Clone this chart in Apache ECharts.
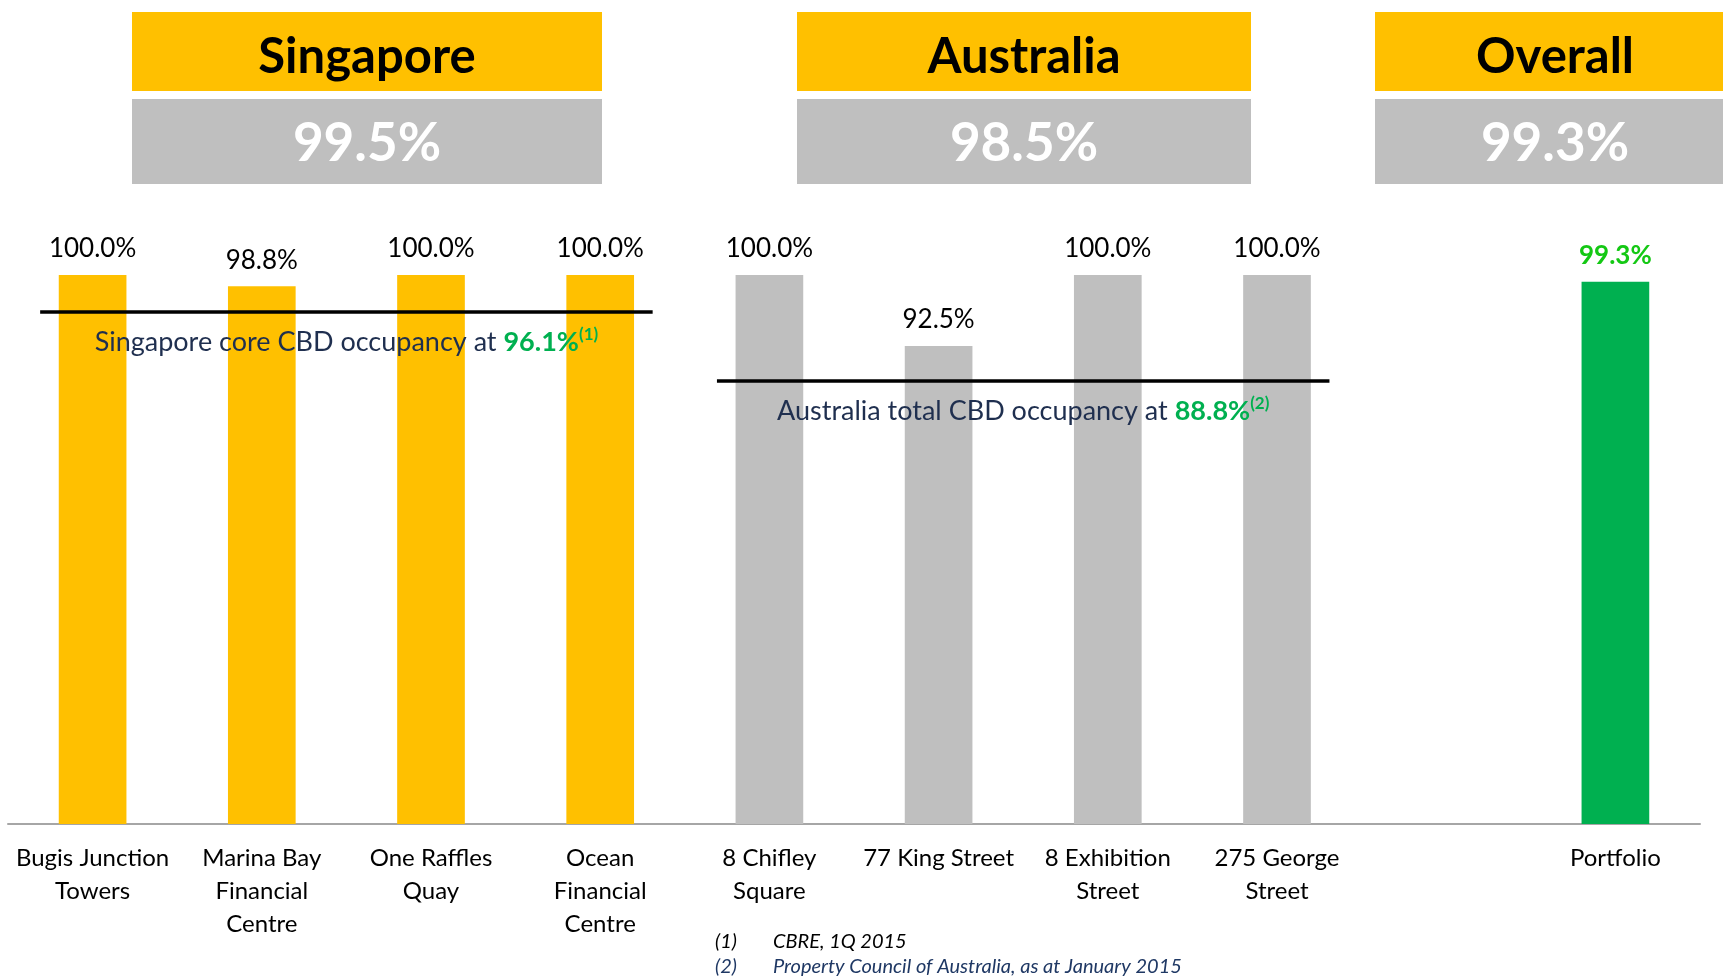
<!DOCTYPE html>
<html>
<head>
<meta charset="utf-8">
<script src="https://cdn.jsdelivr.net/npm/echarts@6/dist/echarts.min.js"></script>
<style>
  html, body { margin: 0; padding: 0; background: #ffffff; }
  #chart { width: 1723px; height: 977px; }
</style>
</head>
<body>
<div id="chart"></div>
<script>
// ---------- data ----------
const categories = [
  'Bugis Junction\nTowers',
  'Marina Bay\nFinancial\nCentre',
  'One Raffles\nQuay',
  'Ocean\nFinancial\nCentre',
  '8 Chifley\nSquare',
  '77 King Street',
  '8 Exhibition\nStreet',
  '275 George\nStreet',
  '',
  'Portfolio'
];
const occupancy = [100.0, 98.8, 100.0, 100.0, 100.0, 92.5, 100.0, 100.0, null, 99.3];
const groupOf = ['sg', 'sg', 'sg', 'sg', 'au', 'au', 'au', 'au', null, 'all'];

const regionNames = ['Singapore', 'Australia', 'Overall'];
const regionValues = [99.5, 98.5, 99.3];

const benchText = ['Singapore core CBD occupancy at ', 'Australia total CBD occupancy at '];
const benchValues = [96.1, 88.8];
const benchNotes = ['(1)', '(2)'];
const benchFirst = [0, 4];
const benchLast = [3, 7];

const footnoteNums = ['(1)', '(2)'];
const footnoteTexts = ['CBRE, 1Q 2015', 'Property Council of Australia, as at January 2015'];

// ---------- styles ----------
const FONT = 'Lato';
const YELLOW = '#FFC000';
const GREY = '#BFBFBF';
const GREEN = '#00B050';
const LABEL_GREEN = '#14C814';
const NAVY = '#1F2F4F';
const groupColor = { sg: YELLOW, au: GREY, all: GREEN };

// header layout (x, width) per region
const headerX = [132, 797, 1375];
const headerW = [470, 454, 360];

const chart = echarts.init(document.getElementById('chart'));

const barData = occupancy.map((v, i) => ({
  value: v,
  itemStyle: { color: groupColor[groupOf[i]] || GREY },
  label: groupOf[i] === 'all'
    ? { color: LABEL_GREEN, fontWeight: 'bold' }
    : {}
}));

const series = [{
  type: 'bar',
  xAxisIndex: 0,
  yAxisIndex: 0,
  barWidth: '40%',
  data: barData,
  silent: true,
  label: {
    show: true,
    position: 'top',
    distance: 13,
    fontFamily: FONT,
    fontSize: 26,
    color: '#000000',
    formatter: p => (p.value == null ? '' : p.value.toFixed(1) + '%')
  }
}];

const PAD = 0.31;
benchValues.forEach((v, k) => {
  const x0 = benchFirst[k] + 0.5 - PAD;
  const x1 = benchLast[k] + 0.5 + PAD;
  series.push({
    type: 'line',
    xAxisIndex: 1,
    yAxisIndex: 0,
    data: [[x0, v], [x1, v]],
    symbol: 'none',
    silent: true,
    lineStyle: { color: '#000000', width: 3.5 },
    z: 5
  });
  series.push({
    type: 'scatter',
    xAxisIndex: 1,
    yAxisIndex: 0,
    data: [[(x0 + x1) / 2, v]],
    symbol: 'circle',
    symbolSize: 1,
    silent: true,
    itemStyle: { color: 'rgba(0,0,0,0)' },
    z: 6,
    label: {
      show: true,
      opacity: 1,
      position: 'bottom',
      distance: 14,
      formatter: '{a|' + benchText[k] + '}{b|' + v.toFixed(1) + '%}{c|' + benchNotes[k] + '}',
      rich: {
        a: { fontFamily: FONT, fontSize: 27, color: NAVY, lineHeight: 32 },
        b: { fontFamily: FONT, fontSize: 27, color: GREEN, fontWeight: 'bold', lineHeight: 32 },
        c: { fontFamily: FONT, fontSize: 17, color: GREEN, fontWeight: 'bold', lineHeight: 14, verticalAlign: 'top' }
      }
    }
  });
});

const graphics = [];
regionNames.forEach((name, k) => {
  const x = headerX[k], w = headerW[k];
  graphics.push(
    { type: 'rect', silent: true, shape: { x: x, y: 12, width: w, height: 79 }, style: { fill: YELLOW } },
    { type: 'rect', silent: true, shape: { x: x, y: 99, width: w, height: 85 }, style: { fill: GREY } },
    { type: 'text', silent: true, x: x + w / 2, y: 57,
      style: { text: name, fill: '#000000', font: 'bold 49px ' + FONT, align: 'center', verticalAlign: 'middle' } },
    { type: 'text', silent: true, x: x + w / 2, y: 144,
      style: { text: regionValues[k].toFixed(1) + '%', fill: '#FFFFFF', font: 'bold 53px ' + FONT, align: 'center', verticalAlign: 'middle' } }
  );
});

const titles = footnoteTexts.map((t, k) => ({
  left: 715,
  top: 932 + k * 25,
  padding: 0,
  text: '{n|' + footnoteNums[k] + '}{t|' + t + '}',
  textStyle: {
    fontWeight: 'normal',
    rich: {
      n: { fontFamily: FONT, fontStyle: 'italic', fontWeight: 'normal', fontSize: 20, color: k === 0 ? '#000000' : '#1F3864', width: 58 },
      t: { fontFamily: FONT, fontStyle: 'italic', fontWeight: 'normal', fontSize: 20, color: k === 0 ? '#000000' : '#1F3864' }
    }
  }
}));

chart.setOption({
  animation: false,
  backgroundColor: '#ffffff',
  title: titles,
  grid: { left: 8, right: 23, top: 275, bottom: 153, containLabel: false },
  xAxis: [{
    type: 'category',
    data: categories,
    axisLine: { show: true, lineStyle: { color: '#A6A6A6', width: 2 } },
    axisTick: { show: false },
    axisLabel: {
      interval: 0,
      margin: 18,
      fontFamily: FONT,
      fontSize: 24,
      lineHeight: 33,
      color: '#000000',
      align: 'center'
    },
    splitLine: { show: false }
  }, {
    type: 'value',
    min: 0,
    max: 10,
    show: false,
    splitLine: { show: false }
  }],
  yAxis: [{
    type: 'value',
    min: 42,
    max: 100,
    show: false,
    splitLine: { show: false }
  }],
  graphic: graphics,
  series: series
});
</script>
</body>
</html>
